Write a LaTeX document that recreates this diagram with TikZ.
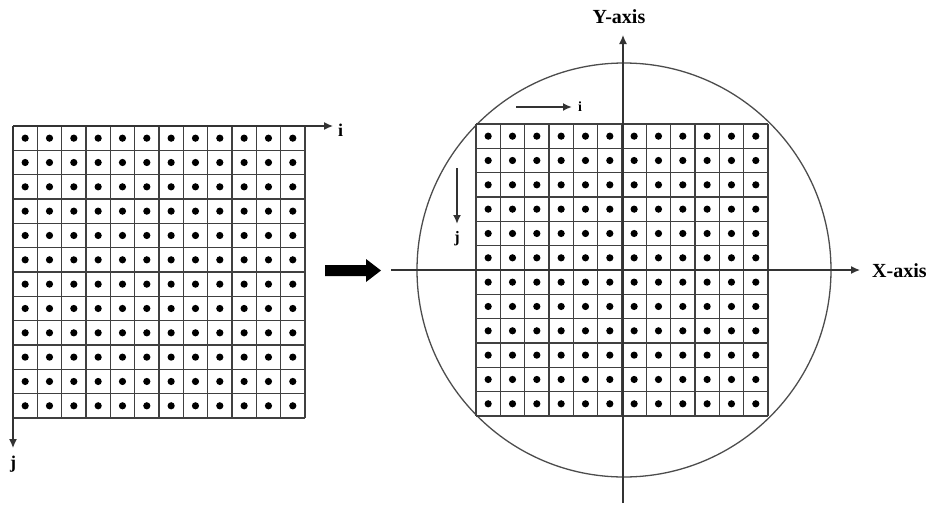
\documentclass[tikz,border=0pt]{standalone}
\usepackage{fontspec}
\setmainfont{Liberation Serif}
\usetikzlibrary{arrows.meta}
\begin{document}
\begin{tikzpicture}[x=1pt,y=-1pt,
  gridline/.style={draw=black!75,line width=1.5pt},
  axisline/.style={draw=black!80,line width=1.3pt,-{Latex[length=9pt,width=8pt]}},
  lbl/.style={font=\bfseries,inner sep=0pt},
  dotmark/.style={fill=black}]
\useasboundingbox (0,0) rectangle (932,504);
% left grid
\foreach \k in {0,...,12}{
  \draw[gridline] ({13+\k*24.33},126) -- ({13+\k*24.33},418);
  \draw[gridline] (13,{126+\k*24.33}) -- (305,{126+\k*24.33});
}
\foreach \a in {0,...,11}{\foreach \b in {0,...,11}{
  \fill[dotmark] ({13+(\a+0.5)*24.33},{126+(\b+0.5)*24.33}) circle (3.6);
}}
\coordinate (lo) at (13,126);
\node[lbl,font=\bfseries\fontsize{18}{18}\selectfont,anchor=west] (li) at (338,130) {i};
\node[lbl,font=\bfseries\fontsize{18}{18}\selectfont] (lj) at (13,464) {j};
\coordinate (liend) at (333,126);
\coordinate (ljend) at (13,448);
\draw[axisline] (lo) -- (liend);
\draw[axisline] (lo) -- (ljend);
% big arrow
\fill[black] (325,265) -- (366,265) -- (366,259) -- (381,270.5) -- (366,282) -- (366,276) -- (325,276) -- cycle;
% circle
\draw[draw=black!70,line width=1.3pt] (624,270) circle (207);
% right grid
\foreach \k in {0,...,12}{
  \draw[draw=black!75,line width=1.3pt] ({476+\k*24.33},124) -- ({476+\k*24.33},416);
  \draw[draw=black!75,line width=1.3pt] (476,{124+\k*24.33}) -- (768,{124+\k*24.33});
}
\foreach \a in {0,...,11}{\foreach \b in {0,...,11}{
  \fill[dotmark] ({476+(\a+0.5)*24.33},{124+(\b+0.5)*24.33}) circle (3.6);
}}
% axes
\node[lbl,font=\bfseries\fontsize{20}{20}\selectfont] (ylab) at (619,17) {Y-axis};
\node[lbl,font=\bfseries\fontsize{20}{20}\selectfont,anchor=west] (xlab) at (872,271) {X-axis};
\coordinate (yb) at (623,503);
\coordinate (yt) at (623,35);
\coordinate (xl) at (391,270);
\coordinate (xr) at (860,270);
\draw[axisline] (yb) -- (yt);
\draw[axisline] (xl) -- (xr);
% right i, j
\coordinate (ri0) at (516,107);
\coordinate (ri1) at (572,107);
\node[lbl,font=\bfseries\fontsize{14}{14}\selectfont,anchor=west] (ri) at (578,107) {i};
\draw[axisline,line width=1.8pt] (ri0) -- (ri1);
\coordinate (rj0) at (457,168);
\coordinate (rj1) at (457,224);
\node[lbl,font=\bfseries\fontsize{16}{16}\selectfont] (rj) at (457,239) {j};
\draw[axisline,line width=1.8pt] (rj0) -- (rj1);
\end{tikzpicture}
\end{document}
